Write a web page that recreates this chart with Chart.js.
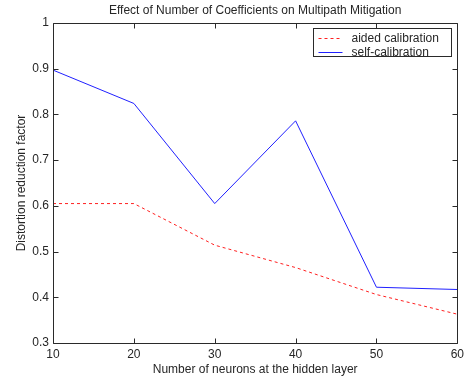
<!DOCTYPE html>
<html>
<head>
<meta charset="utf-8">
<script src="https://cdn.jsdelivr.net/npm/chart.js@4.4.1/dist/chart.umd.min.js"></script>
<style>
  html, body { margin: 0; padding: 0; background: #fff; }
  #wrap { width: 468px; height: 381px; }
</style>
</head>
<body>
<div id="wrap"><canvas id="c" width="468" height="381"></canvas></div>
<script>
// Hidden-layer sizes and the measured distortion reduction factor for each calibration mode
const neurons = [10, 20, 30, 40, 50, 60];
const aidedCalibration = [0.605, 0.605, 0.514, 0.465, 0.406, 0.363];
const selfCalibration = [0.897, 0.824, 0.605, 0.786, 0.422, 0.417];
const xTicks = [10, 20, 30, 40, 50, 60];
const yTicks = [0.3, 0.4, 0.5, 0.6, 0.7, 0.8, 0.9, 1];

const FONT = "'Liberation Sans', Arial, Helvetica, sans-serif";
const TEXT = '#262626';
const AXIS = '#2a2a2a';

const toPoints = (xs, ys) => xs.map((x, i) => ({ x: x, y: ys[i] }));

// Axes box with inward tick marks on all four sides
const frame = {
  id: 'frame',
  afterDatasetsDraw(chart) {
    const { ctx, chartArea: a, scales } = chart;
    const L = Math.round(a.left) + 0.5, R = Math.round(a.right) + 0.5;
    const T = Math.round(a.top) + 0.5, B = Math.round(a.bottom) + 0.5;
    const len = 5;
    ctx.save();
    ctx.strokeStyle = AXIS;
    ctx.lineWidth = 1;
    ctx.beginPath();
    ctx.rect(L, T, R - L, B - T);
    xTicks.forEach(v => {
      const x = Math.round(scales.x.getPixelForValue(v)) + 0.5;
      ctx.moveTo(x, B); ctx.lineTo(x, B - len);
      ctx.moveTo(x, T); ctx.lineTo(x, T + len);
    });
    yTicks.forEach(v => {
      const y = Math.round(scales.y.getPixelForValue(v)) + 0.5;
      ctx.moveTo(L, y); ctx.lineTo(L + len, y);
      ctx.moveTo(R, y); ctx.lineTo(R - len, y);
    });
    ctx.stroke();
    ctx.restore();
  }
};

// Boxed legend in the upper-right corner of the plot area
const boxLegend = {
  id: 'boxLegend',
  afterDraw(chart) {
    const { ctx, chartArea: a } = chart;
    const w = 138, h = 28;
    const left = Math.round(a.right) - 144 + 0.5;
    const top = Math.round(a.top) + 5 + 0.5;
    ctx.save();
    ctx.fillStyle = '#fff';
    ctx.fillRect(left, top, w, h);
    ctx.strokeStyle = AXIS;
    ctx.lineWidth = 1;
    ctx.strokeRect(left, top, w, h);
    ctx.font = '12px ' + FONT;
    ctx.textBaseline = 'middle';
    ctx.textAlign = 'left';
    chart.data.datasets.forEach((ds, i) => {
      const y = Math.round(top + 9 + i * 14.4) + 0.5;
      ctx.strokeStyle = ds.borderColor;
      ctx.lineWidth = ds.borderWidth;
      ctx.setLineDash(ds.borderDash || []);
      ctx.beginPath();
      ctx.moveTo(left + 5, y);
      ctx.lineTo(left + 29, y);
      ctx.stroke();
      ctx.setLineDash([]);
      ctx.fillStyle = TEXT;
      ctx.fillText(ds.label, left + 38, y);
    });
    ctx.restore();
  }
};

new Chart(document.getElementById('c'), {
  type: 'line',
  data: {
    datasets: [
      {
        label: 'aided calibration',
        data: toPoints(neurons, aidedCalibration),
        borderColor: '#ff2020',
        borderWidth: 1,
        borderDash: [3, 3],
        pointRadius: 0,
        tension: 0,
        fill: false
      },
      {
        label: 'self-calibration',
        data: toPoints(neurons, selfCalibration),
        borderColor: '#2020ff',
        borderWidth: 1,
        pointRadius: 0,
        tension: 0,
        fill: false
      }
    ]
  },
  options: {
    responsive: false,
    animation: false,
    devicePixelRatio: 1,
    layout: { padding: { top: 0, right: 9, bottom: 0, left: 0 } },
    plugins: {
      legend: { display: false },
      tooltip: { enabled: false },
      title: {
        display: true,
        fullSize: false,
        text: 'Effect of Number of Coefficients on Multipath Mitigation',
        color: TEXT,
        font: { family: FONT, size: 12, weight: 'normal', lineHeight: 1.2 },
        padding: { top: 3, bottom: 5.6 }
      }
    },
    scales: {
      x: {
        type: 'linear',
        min: 10,
        max: 60,
        afterBuildTicks(scale) { scale.ticks = xTicks.map(v => ({ value: v })); },
        afterFit(scale) { scale.height = 38; },
        grid: { display: false, drawTicks: false },
        border: { display: false },
        ticks: {
          color: TEXT,
          padding: 4,
          maxRotation: 0,
          font: { family: FONT, size: 12 },
          callback: v => String(v)
        },
        title: {
          display: true,
          text: 'Number of neurons at the hidden layer',
          color: TEXT,
          font: { family: FONT, size: 12, lineHeight: 1.2 },
          padding: { top: 0, bottom: 3.8 }
        }
      },
      y: {
        type: 'linear',
        min: 0.3,
        max: 1,
        afterBuildTicks(scale) { scale.ticks = yTicks.map(v => ({ value: v })); },
        afterFit(scale) { scale.width = 53; },
        grid: { display: false, drawTicks: false },
        border: { display: false },
        ticks: {
          color: TEXT,
          padding: 4,
          font: { family: FONT, size: 12 },
          callback: v => String(parseFloat(v.toFixed(1)))
        },
        title: {
          display: true,
          text: 'Distortion reduction factor',
          color: TEXT,
          font: { family: FONT, size: 12, lineHeight: 1.2 },
          padding: { top: 14.8, bottom: 0 }
        }
      }
    }
  },
  plugins: [frame, boxLegend]
});
</script>
</body>
</html>
